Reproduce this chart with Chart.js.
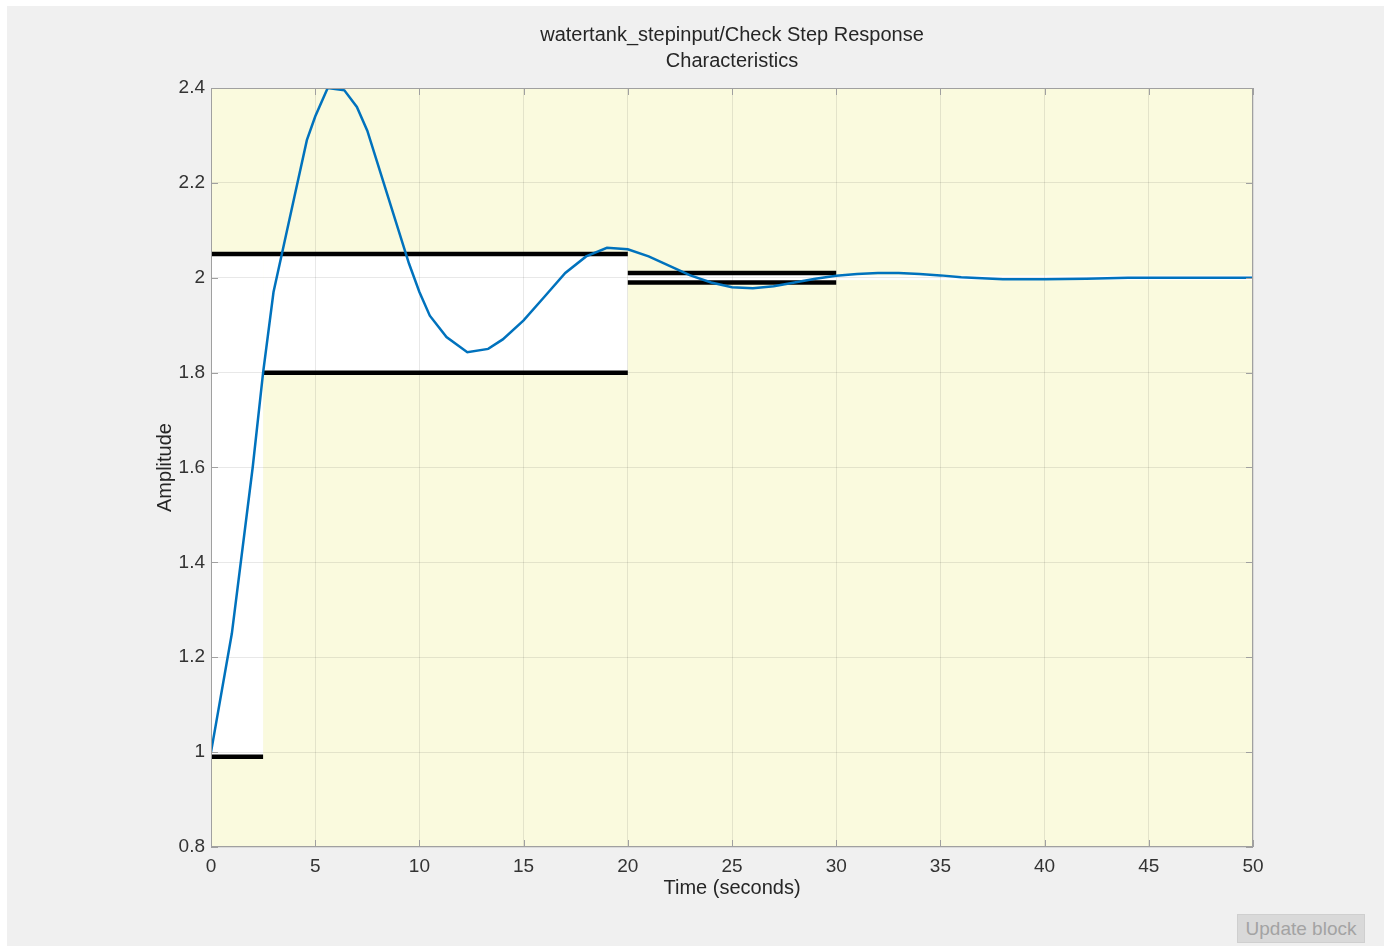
<!DOCTYPE html>
<html>
<head>
<meta charset="utf-8">
<script src="https://cdn.jsdelivr.net/npm/chart.js@4.4.1/dist/chart.umd.min.js"></script>
<style>
  html, body { margin: 0; padding: 0; background: #ffffff; width: 1384px; height: 947px; overflow: hidden; }
  #bg { position: absolute; left: 7px; top: 6px; width: 1377px; height: 940px; background: #f0f0f0; }
  #c { position: absolute; left: 0; top: 0; }
  #btn { position: absolute; left: 1237px; top: 914px; width: 128px; height: 29px; background: #d9d9d9;
         border: 1px solid #cfcfcf; box-sizing: border-box; color: #a3a3a3;
         font-family: "Liberation Sans", Arial, sans-serif; font-size: 19px; line-height: 27px; text-align: center; }
</style>
</head>
<body>
<div id="bg"></div>
<canvas id="c" width="1384" height="947"></canvas>
<div id="btn">Update block</div>
<script>
// ---- data ----
const timeValues = [0, 1, 2, 2.5, 3, 3.5, 4, 4.6, 5, 5.6, 6.4, 7, 7.5, 8, 8.5, 9, 9.5, 10, 10.5, 11.3, 12.3, 13.3, 14, 15, 16, 17, 18, 19, 20, 21, 22, 23, 24, 25, 26, 27, 28, 29, 30, 31, 32, 33, 34, 35, 36, 37, 38, 40, 42, 44, 46, 50];
const amplitudeValues = [1.00, 1.25, 1.60, 1.80, 1.97, 2.07, 2.17, 2.29, 2.34, 2.40, 2.395, 2.36, 2.31, 2.24, 2.17, 2.10, 2.03, 1.97, 1.92, 1.875, 1.843, 1.85, 1.87, 1.91, 1.96, 2.01, 2.045, 2.063, 2.06, 2.045, 2.025, 2.005, 1.99, 1.98, 1.978, 1.982, 1.99, 1.998, 2.004, 2.008, 2.01, 2.01, 2.008, 2.005, 2.001, 1.999, 1.997, 1.997, 1.998, 2.0, 2.0, 2.0];
// bound segments: [xStart, xEnd, value]
const upperBounds = [[0, 20, 2.05], [20, 30, 2.01]];
const lowerBounds = [[0, 2.5, 0.99], [2.5, 20, 1.8], [20, 30, 1.99]];
// allowed (white) band beyond the last bound segment: [xStart, xEnd, low, high]
const tailBand = [30, 50, 1.995, 2.005];
const xTicks = [0, 5, 10, 15, 20, 25, 30, 35, 40, 45, 50];
const xTickLabels = ['0', '5', '10', '15', '20', '25', '30', '35', '40', '45', '50'];
const yTicks = [0.8, 1.0, 1.2, 1.4, 1.6, 1.8, 2.0, 2.2, 2.4];
const yTickLabels = ['0.8', '1', '1.2', '1.4', '1.6', '1.8', '2', '2.2', '2.4'];
const titleLines = ['watertank_stepinput/Check Step Response', 'Characteristics'];

const FONT = '"Liberation Sans", Arial, Helvetica, sans-serif';
const AXIS_COLOR = '#a0a0a0';

function seg(s) { return { x: s[0], y: s[2] }; }
function segEnd(s) { return { x: s[1], y: s[2] }; }

const boundDatasets = upperBounds.concat(lowerBounds).map(s => ({
  data: [seg(s), segEnd(s)],
  borderColor: '#000000',
  borderWidth: 4.5,
  borderCapStyle: 'butt',
  pointRadius: 0,
  order: 2
}));

const regionPlugin = {
  id: 'regions',
  beforeDraw(chart) {
    const { ctx, chartArea: a, scales: { x, y } } = chart;
    ctx.save();
    ctx.fillStyle = 'rgb(250,250,222)';
    ctx.fillRect(a.left, a.top, a.right - a.left, a.bottom - a.top);
    ctx.fillStyle = '#ffffff';
    lowerBounds.forEach(lb => {
      upperBounds.forEach(ub => {
        const x0 = Math.max(lb[0], ub[0]), x1 = Math.min(lb[1], ub[1]);
        if (x1 > x0) {
          const px0 = x.getPixelForValue(x0), px1 = x.getPixelForValue(x1);
          const py0 = y.getPixelForValue(ub[2]), py1 = y.getPixelForValue(lb[2]);
          ctx.fillRect(px0, py0, px1 - px0, py1 - py0);
        }
      });
    });
    const tx0 = x.getPixelForValue(tailBand[0]), tx1 = x.getPixelForValue(tailBand[1]);
    const ty0 = y.getPixelForValue(tailBand[3]), ty1 = y.getPixelForValue(tailBand[2]);
    ctx.fillRect(tx0, ty0, tx1 - tx0, ty1 - ty0);
    ctx.restore();
  },
  afterDraw(chart) {
    const { ctx, chartArea: a, scales: { x, y } } = chart;
    ctx.save();
    ctx.strokeStyle = AXIS_COLOR;
    ctx.lineWidth = 1;
    ctx.strokeRect(Math.round(a.left) + 0.5, Math.round(a.top) + 0.5, Math.round(a.right - a.left) - 1, Math.round(a.bottom - a.top) - 1);
    const tl = 7;
    ctx.beginPath();
    xTicks.forEach(v => {
      const px = Math.round(x.getPixelForValue(v)) + 0.5;
      ctx.moveTo(px, a.bottom); ctx.lineTo(px, a.bottom - tl);
      ctx.moveTo(px, a.top); ctx.lineTo(px, a.top + tl);
    });
    yTicks.forEach(v => {
      const py = Math.round(y.getPixelForValue(v)) + 0.5;
      ctx.moveTo(a.left, py); ctx.lineTo(a.left + tl, py);
      ctx.moveTo(a.right, py); ctx.lineTo(a.right - tl, py);
    });
    ctx.stroke();
    ctx.restore();
  }
};

new Chart(document.getElementById('c'), {
  type: 'line',
  data: {
    datasets: [{
      data: timeValues.map((t, i) => ({ x: t, y: amplitudeValues[i] })),
      borderColor: '#0072BD',
      borderWidth: 2.5,
      pointRadius: 0,
      tension: 0,
      order: 0
    }].concat(boundDatasets)
  },
  options: {
    responsive: false,
    animation: false,
    devicePixelRatio: 1,
    layout: { padding: { left: 70, right: 131, top: 0, bottom: 0 } },
    plugins: {
      legend: { display: false },
      tooltip: { enabled: false },
      title: {
        display: true,
        fullSize: false,
        text: titleLines,
        color: '#262626',
        font: { family: FONT, size: 20, weight: 'normal', lineHeight: 1.3 },
        padding: { top: 22, bottom: 14 }
      }
    },
    scales: {
      x: {
        type: 'linear',
        min: 0, max: 50,
        afterFit(s) { s.height = 100; },
        afterBuildTicks(s) { s.ticks = xTicks.map(v => ({ value: v })); },
        grid: { color: 'rgba(0,0,0,0.09)', drawTicks: false },
        border: { display: false },
        ticks: {
          autoSkip: false, maxRotation: 0,
          padding: 8,
          color: '#333333',
          font: { family: FONT, size: 19 },
          callback: (v, i) => xTickLabels[i]
        },
        title: {
          display: true, text: 'Time (seconds)', color: '#262626',
          font: { family: FONT, size: 20 },
          padding: { top: 0, bottom: 47 }
        }
      },
      y: {
        type: 'linear',
        min: 0.8, max: 2.4,
        afterFit(s) { s.width = 141; },
        afterBuildTicks(s) { s.ticks = yTicks.map(v => ({ value: v })); },
        grid: { color: 'rgba(0,0,0,0.09)', drawTicks: false },
        border: { display: false },
        ticks: {
          autoSkip: false,
          padding: 6,
          color: '#333333',
          font: { family: FONT, size: 19 },
          callback: (v, i) => yTickLabels[i]
        },
        title: {
          display: true, text: 'Amplitude', color: '#262626',
          font: { family: FONT, size: 20 },
          padding: { top: 83, bottom: 0 }
        }
      }
    }
  },
  plugins: [regionPlugin]
});
</script>
</body>
</html>
